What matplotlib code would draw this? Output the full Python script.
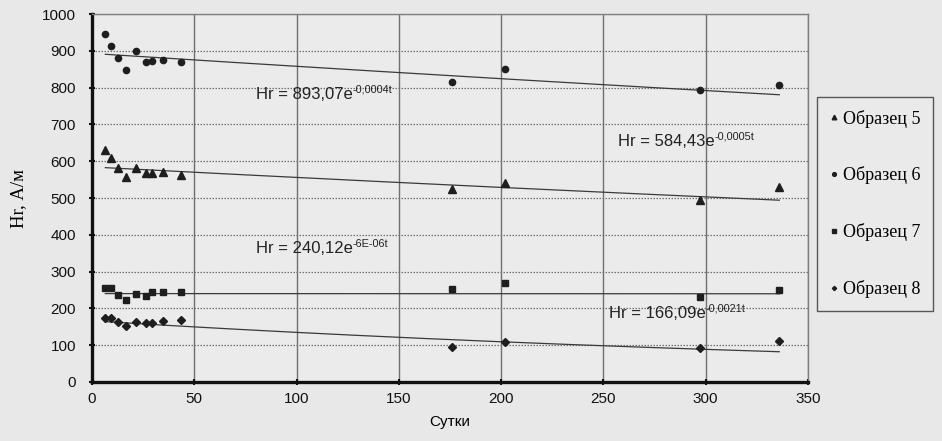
import numpy as np
import matplotlib
matplotlib.use('Agg')
import matplotlib.pyplot as plt

# measurement days
days = [6.5, 9.5, 12.5, 16.5, 21.5, 26.5, 29.5, 34.5, 43.5, 176, 202, 297, 336]

# Hr, A/m for each sample
hr_5 = [630, 609, 582, 558, 582, 569, 569, 570, 563, 524, 541, 495, 531]
hr_6 = [945, 914, 881, 849, 899, 869, 873, 875, 871, 815, 852, 793, 808]
hr_7 = [256, 256, 235, 223, 239, 234, 244, 245, 245, 253, 268, 232, 249]
hr_8 = [175, 175, 163, 153, 164, 161, 161, 165, 169, 95, 108, 92, 112]

# exponential trend coefficients  Hr = a * exp(b * t)
fit_a = [584.43, 893.07, 240.12, 166.09]
fit_b = [-0.0005, -0.0004, -6e-06, -0.0021]
fit_main = ['Hr = 584,43e', 'Hr = 893,07e', 'Hr = 240,12e', 'Hr = 166,09e']
fit_sup = ['-0,0005t', '-0,0004t', '-6E-06t', '-0,0021t']
fit_pos = [(257, 641), (80, 769), (80, 350), (252.5, 173)]

labels = ['Образец 5', 'Образец 6', 'Образец 7', 'Образец 8']
markers = ['^', 'o', 's', 'D']
msizes = [5.5, 4.5, 4.8, 3.6]

bg = '#e8e8e8'
fig = plt.figure(figsize=(9.42, 4.41), dpi=100, facecolor=bg)
ax = fig.add_axes([0.0977, 0.134, 0.760, 0.834])
ax.set_facecolor('#ebebeb')

ax.set_xlim(0, 350)
ax.set_ylim(0, 1000)
ax.set_xticks(np.arange(0, 351, 50))
ax.set_yticks(np.arange(0, 1001, 100))

for x in range(50, 351, 50):
    ax.axvline(x, color='#707070', lw=1.0, zorder=1)
for y in range(100, 1001, 100):
    ax.axhline(y, color='#707070', lw=0.9, ls=(0, (1.2, 1.2)), zorder=1)

handles = []
series = [hr_5, hr_6, hr_7, hr_8]
t = np.array(days)
tt = np.linspace(t.min(), t.max(), 200)
for vals, mk, ms, lab, a, b in zip(series, markers, msizes, labels, fit_a, fit_b):
    h, = ax.plot(days, vals, ls='none', marker=mk, ms=ms, color='#1e1e1e',
                 label=lab, zorder=3)
    handles.append(h)
    ax.plot(tt, a * np.exp(b * tt), color='#3a3a3a', lw=0.9, zorder=2)

for (px, py), main, sup in zip(fit_pos, fit_main, fit_sup):
    txt = ax.text(px, py, main, fontsize=12, family='Liberation Sans',
                  color='#222222', va='baseline', zorder=4)
    ax.annotate(sup, xy=(1, 0.5), xycoords=txt, fontsize=7.8,
                family='Liberation Sans', color='#222222', va='bottom',
                ha='left', zorder=4)

for side in ['left', 'bottom']:
    ax.spines[side].set_linewidth(2.4)
    ax.spines[side].set_color('#111111')
for side in ['top', 'right']:
    ax.spines[side].set_linewidth(1.0)
    ax.spines[side].set_color('#808080')

ax.tick_params(axis='both', direction='inout', length=5, width=1.5,
               labelsize=11, colors='#111111')
ax.tick_params(axis='y', pad=9)
ax.tick_params(axis='x', pad=5)
for lab in ax.get_xticklabels() + ax.get_yticklabels():
    lab.set_family('Liberation Sans')

ax.set_xlabel('Сутки', fontsize=11, family='Liberation Sans', labelpad=6)
ax.set_ylabel('Hr, А/м', fontsize=13.5, family='Liberation Serif', labelpad=11)

leg = fig.legend(handles=handles, loc='upper left',
                 bbox_to_anchor=(817 / 942, 1 - 97 / 441),
                 prop={'family': 'Liberation Serif', 'size': 13},
                 markerscale=0.6, handlelength=0.5, handletextpad=0.25,
                 labelspacing=2.15, borderpad=0.7, borderaxespad=0,
                 frameon=True, fancybox=False, edgecolor='#333333',
                 facecolor='#ebebeb')
leg.get_frame().set_linewidth(1.0)

fig.savefig('out.png', dpi=100, facecolor=bg)
